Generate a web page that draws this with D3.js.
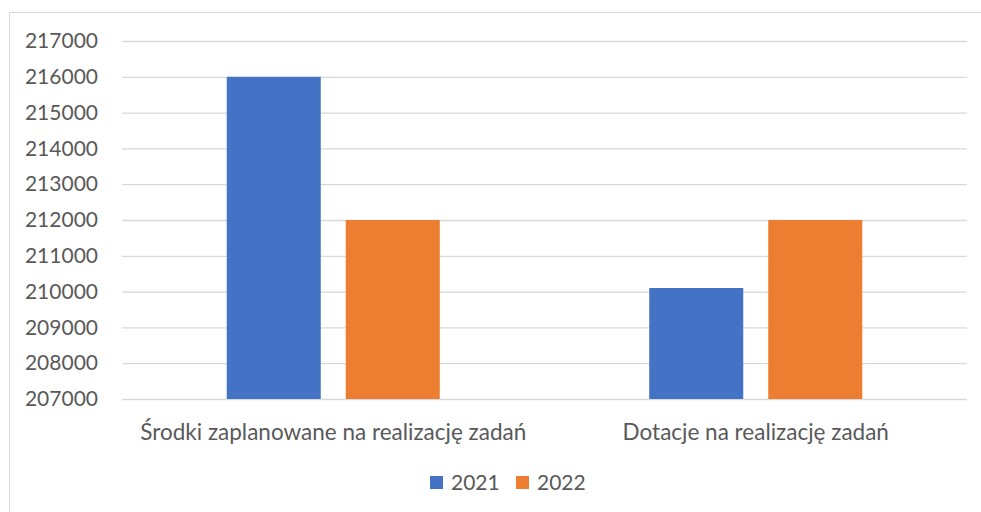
<!DOCTYPE html>
<html><head><meta charset="utf-8">
<script src="https://cdn.jsdelivr.net/npm/d3@7"></script>
<style>body{margin:0;background:#fff}svg{display:block}text{font-family:Lato,"Open Sans",sans-serif;fill:#595959}</style>
</head><body><svg id="c" width="981" height="512"></svg>
<script>
const categories = ["Środki zaplanowane na realizację zadań", "Dotacje na realizację zadań"];
const seriesNames = ["2021", "2022"];
const values2021 = [216000, 210100];
const values2022 = [212000, 212000];
const yTicks = [207000, 208000, 209000, 210000, 211000, 212000, 213000, 214000, 215000, 216000, 217000];
const colors = ["#4472C4", "#ED7D31"];

const svg = d3.select("#c");
svg.append("path").attr("d", "M9.5,520 V12.5 H990").attr("fill", "none").attr("stroke", "#d9d9d9").attr("stroke-width", 1);

const x0 = d3.scaleBand().domain(categories).range([122, 967]).paddingInner(0).paddingOuter(0);
const x1 = d3.scaleBand().domain(seriesNames).range([0, x0.bandwidth()]).paddingInner(0.21).paddingOuter(0.88);
const y = d3.scaleLinear().domain([207000, 217000]).range([399, 41]);

const yAxis = d3.axisLeft(y).tickValues(yTicks).tickSize(-(967 - 122)).tickFormat(d3.format("d")).tickPadding(24);
const ga = svg.append("g").attr("transform", "translate(122,0)").call(yAxis);
ga.select(".domain").remove();
ga.selectAll(".tick line").attr("stroke", "#d9d9d9").attr("stroke-width", 1.3);
ga.selectAll(".tick text").attr("font-size", 21).attr("font-family", null).style("fill", "#595959");

const data = categories.map((c, i) => ({cat: c, vals: [values2021[i], values2022[i]]}));
const g = svg.append("g");
data.forEach(d => {
  d.vals.forEach((v, j) => {
    g.append("rect")
      .attr("x", x0(d.cat) + x1(seriesNames[j]))
      .attr("width", x1.bandwidth())
      .attr("y", y(v))
      .attr("height", y(207000) - y(v))
      .attr("fill", colors[j]);
  });
});

svg.append("g").selectAll("text").data(categories).join("text")
  .attr("x", d => x0(d) + x0.bandwidth() / 2)
  .attr("y", 440)
  .attr("text-anchor", "middle")
  .attr("font-size", 22.5)
  .text(d => d);

const leg = svg.append("g");
const legX = [430, 516];
seriesNames.forEach((s, j) => {
  leg.append("rect").attr("x", legX[j]).attr("y", 476).attr("width", 13).attr("height", 13).attr("fill", colors[j]);
  leg.append("text").attr("x", legX[j] + 21).attr("y", 490).attr("font-size", 21).text(s);
});
</script></body></html>
